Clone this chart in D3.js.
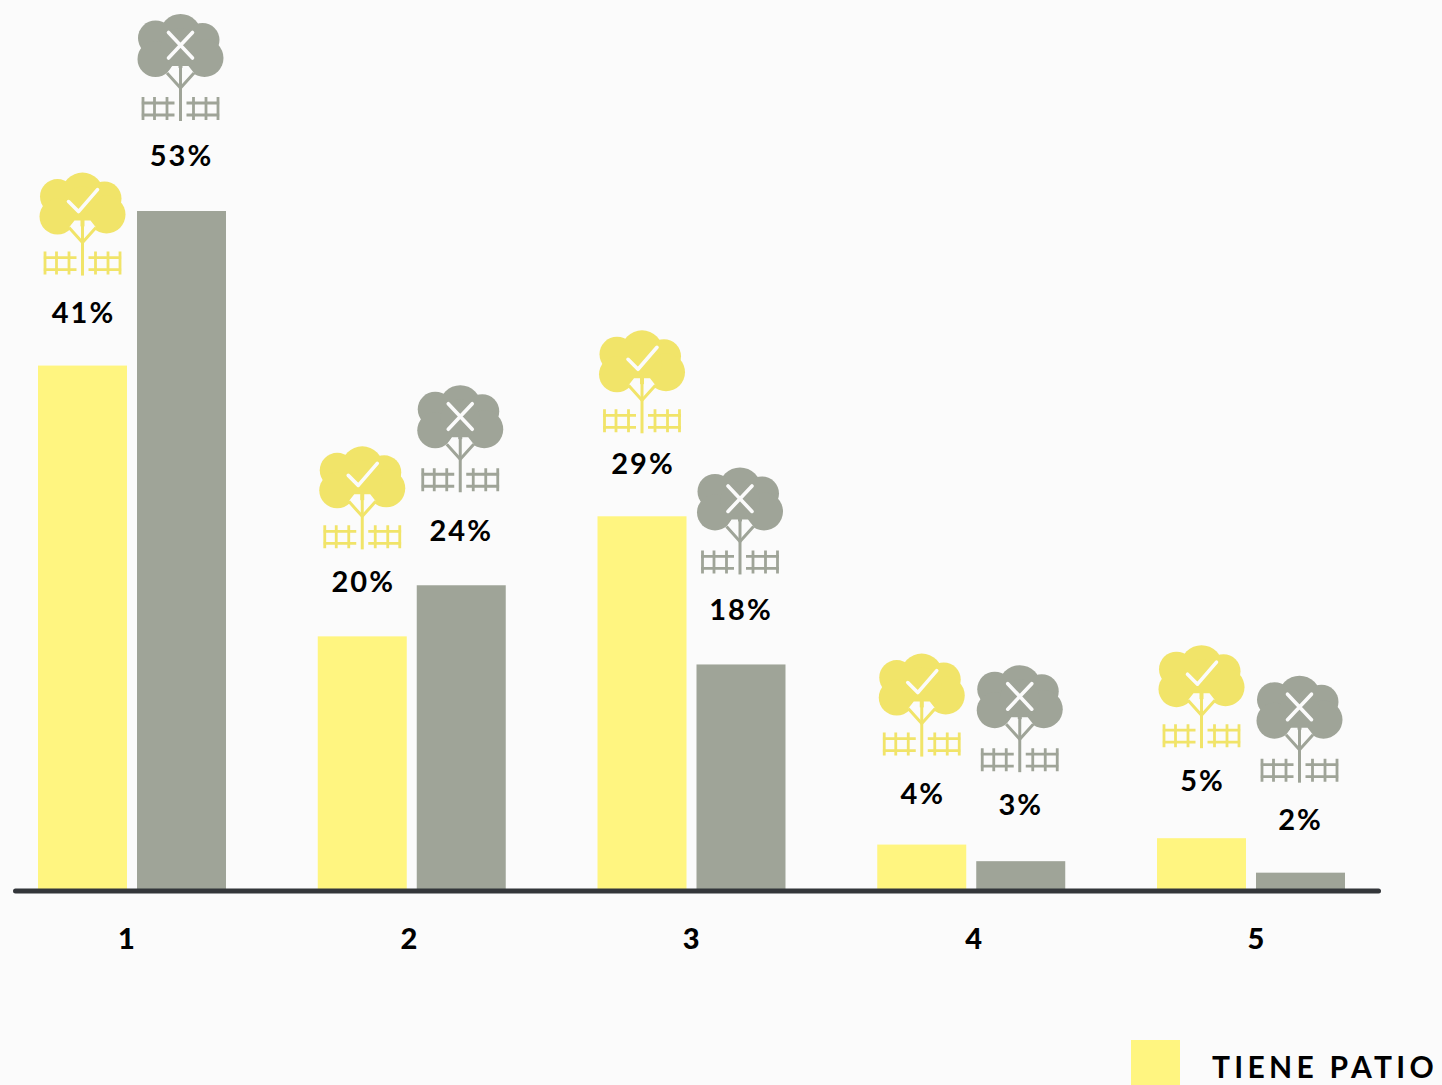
<!DOCTYPE html>
<html><head><meta charset="utf-8">
<script src="https://cdn.jsdelivr.net/npm/d3@7"></script>
<style>html,body{margin:0;padding:0;background:#fbfbfb;overflow:hidden}svg{display:block}text{font-family:Lato,sans-serif}</style>
</head><body><svg id="c" width="1442" height="1085"></svg>
<script>
const categories = ["1","2","3","4","5"];
const seriesNames = ["tiene","noTiene"];
const tieneBar = [40.9,19.7,29.1,3.4,3.9];
const noTieneBar = [53,23.7,17.5,2.1,1.2];
const tieneLabel = ["41%","20%","29%","4%","5%"];
const noTieneLabel = ["53%","24%","18%","3%","2%"];
const legendLabel = "TIENE PATIO";
// per-mark nudges seen in the picture (layout, not data)
const tieneIconGap = [193,190,186,191,193];
const noTieneIconGap = [197,200,197,196,197];
const tieneTextGap = [43,44,42,41,47];
const noTieneTextGap = [45,44,44,46,43];

const BG="#fbfbfb", YEL="#fff580", GRY="#9fa498", ICONY="#f1e469", AXIS="#33363a";
const svg=d3.select("#c");
svg.append("rect").attr("width",1442).attr("height",1085).attr("fill",BG);
const y=d3.scaleLinear().domain([0,53]).range([888,211]);
const x0=d3.scaleBand().domain(categories).range([38,1345]).paddingInner(.328);
const x1=d3.scaleBand().domain(seriesNames).range([0,x0.bandwidth()]).paddingInner(.101);
const xt=d3.scalePoint().domain(categories).range([126.5,1256]);

function icon(g,col,ok){
  const low=ok?0:4;
  [[0,21,21],[-25,24,17.5],[22,26,17],[-25,ok?44:45,18],[24,ok?42:44,19],[0,34,20]].forEach(c=>
    g.append("circle").attr("cx",c[0]).attr("cy",c[1]).attr("r",c[2]).attr("fill",col));
  const lo=g.append("g").attr("transform",`translate(0,${low})`);
  lo.append("path").attr("d","M-2,48L-8,48L-13.5,55L-2,67ZM2,48L8,48L13.5,55L2,67Z").attr("fill",BG);
  const s=(d,w)=>lo.append("path").attr("d",d).attr("fill","none").attr("stroke",col).attr("stroke-width",w);
  s("M0,48V103",3);
  s("M-13.5,55L0,70L13.5,55",3);
  s("M-39,85H-6M-39,97H-6M-37.5,79V102M-26,79V102M-13.5,79V102",2.8);
  s("M6,85H39M6,97H39M13,79V102M25.5,79V102M37.5,79V102",2.8);
  const m=g.append("path").attr("fill","none").attr("stroke",BG).attr("stroke-width",3.6).attr("stroke-linecap","round").attr("stroke-linejoin","round");
  if(ok) m.attr("d","M-14,29L-4,39L15,17");
  else m.attr("d","M-12,18.5L12,44M12,18.5L-12,44");
}

const groups=[
 {key:"tiene",bars:tieneBar,labels:tieneLabel,iconGap:tieneIconGap,textGap:tieneTextGap,fill:YEL,iconFill:ICONY,ok:true,dx:0,tx:1},
 {key:"noTiene",bars:noTieneBar,labels:noTieneLabel,iconGap:noTieneIconGap,textGap:noTieneTextGap,fill:GRY,iconFill:GRY,ok:false,dx:-1,tx:0}
];
groups.forEach(s=>{
  const rows=categories.map((c,i)=>({c,v:s.bars[i],l:s.labels[i],ig:s.iconGap[i],tg:s.textGap[i]}));
  const cx=d=>x0(d.c)+x1(s.key)+x1.bandwidth()/2;
  svg.append("g").selectAll("rect").data(rows).join("rect")
    .attr("x",d=>x0(d.c)+x1(s.key)).attr("width",x1.bandwidth())
    .attr("y",d=>y(d.v)).attr("height",d=>y(0)-y(d.v)+1).attr("fill",s.fill);
  svg.append("g").selectAll("g").data(rows).join("g")
    .attr("transform",d=>`translate(${cx(d)+s.dx},${y(d.v)-d.ig})`)
    .each(function(){icon(d3.select(this),s.iconFill,s.ok)});
  svg.append("g").selectAll("text").data(rows).join("text")
    .attr("x",d=>cx(d)+s.tx).attr("y",d=>y(d.v)-d.tg).attr("text-anchor","middle")
    .attr("font-size",29).attr("font-weight",700).attr("letter-spacing",2).attr("fill","#000").text(d=>d.l);
});
svg.append("line").attr("x1",15.5).attr("x2",1378.5).attr("y1",891).attr("y2",891)
  .attr("stroke",AXIS).attr("stroke-width",5).attr("stroke-linecap","round");
svg.append("g").selectAll("text").data(categories).join("text")
  .attr("x",d=>xt(d)).attr("y",949).attr("text-anchor","middle")
  .attr("font-size",29).attr("font-weight",900).attr("fill","#000").text(d=>d);
svg.append("rect").attr("x",1131).attr("y",1040).attr("width",49).attr("height",45).attr("fill",YEL);
svg.append("text").attr("x",1212).attr("y",1078).attr("font-size",30).attr("font-weight",700)
  .attr("letter-spacing",4.3).attr("fill","#000").text(legendLabel);
</script></body></html>
